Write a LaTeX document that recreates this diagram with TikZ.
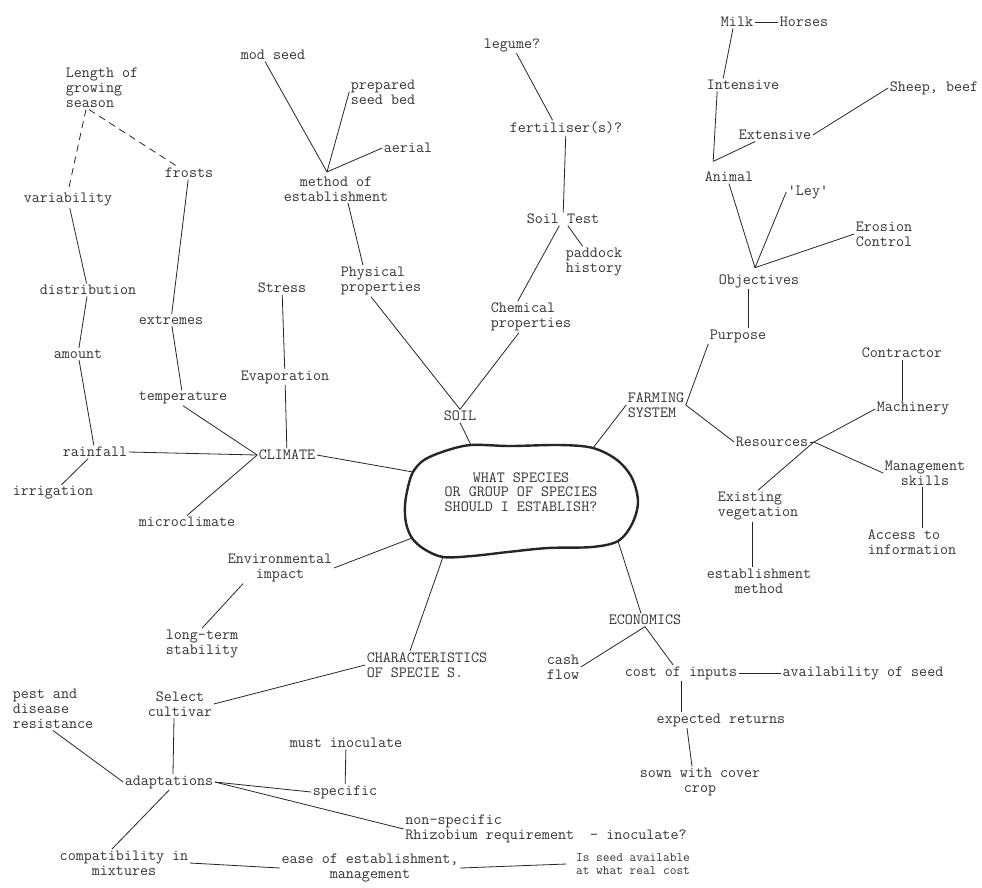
\documentclass[tikz,border=0pt]{standalone}
\usepackage{fontspec}
\begin{document}
\begin{tikzpicture}[x=1pt,y=-1pt,
  t/.style={inner sep=1.5pt, font=\ttfamily\fontsize{15.6}{15}\selectfont, text=black!80},
  tl/.style={t, align=left},
  tc/.style={t, align=center},
  ts/.style={tl, font=\ttfamily\fontsize{13}{13}\selectfont},
  ln/.style={draw=black!85, line width=0.8pt},
  dsh/.style={ln, dash pattern=on 7pt off 5pt},
  blobline/.style={draw=black!85, line width=2.4pt, line join=round}]
\useasboundingbox[fill=white] (0,0) rectangle (982,887);

% ---- climate branch
\node[tl] (lgs) at (102,88) {Length of\\growing\\season};
\node[t] (frosts) at (189,173) {frosts};
\node[t] (var) at (68,200) {variability};
\node[t] (dist) at (88,290) {distribution};
\node[t] (amount) at (78,354) {amount};
\node[t] (rain) at (95,452) {rainfall};
\node[t] (irrig) at (53,493) {irrigation};
\node[t] (extremes) at (171,320) {extremes};
\node[t] (temp) at (183,398) {temperature};
\node[t] (micro) at (187,522) {microclimate};
\node[t] (climate) at (287,455) {CLIMATE};
\node[t] (stress) at (282,288) {Stress};
\node[t] (evap) at (285,377) {Evaporation};

% ---- soil branch
\node[t] (modseed) at (273,55) {mod seed};
\node[tl] (prep) at (383,92) {prepared\\seed bed};
\node[t] (aerial) at (408,148) {aerial};
\node[tc] (method) at (336,189) {method of\\establishment};
\node[tl] (phys) at (381,281) {Physical\\properties};
\node[t] (soil) at (460,416) {SOIL};
\node[t] (legume) at (512,45) {legume?};
\node[t] (fert) at (566,128) {fertiliser(s)?};
\node[t] (soiltest) at (563,219) {Soil Test};
\node[tl] (paddock) at (594,262) {paddock\\history};
\node[tl] (chem) at (531,317) {Chemical\\properties};

% ---- farming system branch
\node[tl] (farm) at (656,405) {FARMING\\SYSTEM};
\node[t] (milk) at (737,22) {Milk};
\node[t] (horses) at (804,22) {Horses};
\node[t] (intensive) at (743,85) {Intensive};
\node[t] (extensive) at (775,135) {Extensive};
\node[t] (sheep) at (934,88) {Sheep, beef};
\node[t] (animal) at (729,177) {Animal};
\node[t] (ley) at (808,192) {'Ley'};
\node[tl] (erosion) at (884,234) {Erosion\\Control};
\node[t] (objectives) at (759,281) {Objectives};
\node[t] (purpose) at (738,336) {Purpose};
\node[t] (resources) at (772,442) {Resources};
\node[t] (contractor) at (902,353) {Contractor};
\node[t] (machinery) at (913,409) {Machinery};
\node[tc] (mgmt) at (925,473) {Management\\skills};
\node[tl] (access) at (912,542) {Access to\\information};
\node[tl] (existing) at (758,506) {Existing\\vegetation};
\node[tc] (estmethod) at (759,581) {establishment\\method};

% ---- economics branch
\node[t] (econ) at (645,620) {ECONOMICS};
\node[tl] (cash) at (563,667) {cash\\flow};
\node[t] (cost) at (681,673) {cost of inputs};
\node[t] (avail) at (863,673) {availability of seed};
\node[t] (expected) at (721,720) {expected returns};
\node[tc] (sown) at (700,782) {sown with cover\\crop};

% ---- characteristics branch
\node[tc] (env) at (280,568) {Environmental\\impact};
\node[tl] (longterm) at (202,644) {long-term\\stability};
\node[tl] (chars) at (427,665) {CHARACTERISTICS\\OF SPECIE S.};
\node[tc] (select) at (180,704) {Select\\cultivar};
\node[tl] (pest) at (53,709) {pest and\\disease\\resistance};
\node[t] (adapt) at (169,782) {adaptations};
\node[t] (mustinoc) at (346,743) {must inoculate};
\node[t] (specific) at (345,792) {specific};
\node[tl] (nonspec) at (546,829) {non-specific\\Rhizobium requirement\ \ - inoculate?};
\node[tc] (compat) at (124,863) {compatibility in\\mixtures};
\node[tc] (ease) at (370,868) {ease of establishment,\\management};
\node[ts] (isseed) at (633,864) {Is seed available\\at what real cost};

% ---- central blob
\coordinate (b1) at (405,505);
\coordinate (b2) at (408,487);
\coordinate (bClim) at (413,472);
\coordinate (b3) at (424,460);
\coordinate (b4) at (445,451);
\coordinate (bSoil) at (471,445);
\coordinate (b5) at (510,446);
\coordinate (b6) at (560,445);
\coordinate (bFarm) at (593,448);
\coordinate (b7) at (617,460);
\coordinate (b8) at (632,478);
\coordinate (b9) at (638,502);
\coordinate (b10) at (632,524);
\coordinate (bEcon) at (618,541);
\coordinate (b11) at (592,547);
\coordinate (b12) at (548,548);
\coordinate (b13) at (508,552);
\coordinate (b14) at (472,556);
\coordinate (bChar) at (443,557);
\coordinate (b15) at (424,549);
\coordinate (bEnv) at (412,538);
\coordinate (b16) at (406,523);
\draw[blobline] plot[smooth cycle, tension=0.55] coordinates {(b1) (b2) (bClim) (b3) (b4) (bSoil) (b5) (b6) (bFarm) (b7) (b8) (b9) (b10) (bEcon) (b11) (b12) (b13) (b14) (bChar) (b15) (bEnv) (b16)};
\node[tc, font=\ttfamily\fontsize{15.6}{14.6}\selectfont] (q) at (521,492) {WHAT SPECIES\\OR GROUP OF SPECIES\\SHOULD I ESTABLISH?};

% ---- connectors: climate
\draw[dsh] ([xshift=-16pt]lgs.south) -- (var.north);
\draw[dsh] ([xshift=-13pt]lgs.south) -- ([xshift=14pt]frosts.north west);
\draw[ln] (var) -- (dist);
\draw[ln] (frosts) -- (extremes);
\draw[ln] (dist) -- (amount);
\draw[ln] (amount) -- (rain);
\draw[ln] (rain) -- (irrig);
\draw[ln] (rain.east) -- (climate.west);
\draw[ln] (extremes) -- (temp);
\draw[ln] (temp.south) -- (climate.west);
\draw[ln] (micro.north) -- (climate.west);
\draw[ln] (stress) -- (evap);
\draw[ln] (evap) -- (climate);
\draw[ln] (climate.east) -- (bClim);

% ---- connectors: soil
\coordinate (mj) at ([xshift=-9pt,yshift=3pt]method.north);
\draw[ln] ([xshift=-8pt]modseed.south) -- (mj);
\draw[ln] (prep.west) -- (mj);
\draw[ln] (aerial.west) -- (mj);
\draw[ln] ([xshift=12pt]method.south) -- ([xshift=-18pt]phys.north);
\draw[ln] ([xshift=-10pt]phys.south) -- (soil.north);
\draw[ln] (chem) -- (soil.north);
\draw[ln] (soil.south) -- (bSoil);
\draw[ln] (legume) -- (fert.150);
\draw[ln] (fert) -- (soiltest);
\draw[ln] (soiltest) -- (paddock);
\draw[ln] (soiltest) -- (chem.130);

% ---- connectors: farming system
\draw[ln] (bFarm) -- (farm.west);
\draw[ln] (farm.east) -- (purpose.south west);
\draw[ln] (farm.east) -- (resources.west);
\draw[ln] ([xshift=10pt]purpose.north) -- ([xshift=-11pt]objectives.south);
\coordinate (oj) at ([xshift=-4pt,yshift=5pt]objectives.north);
\draw[ln] (oj) -- (animal.south);
\draw[ln] (oj) -- (ley.west);
\draw[ln] (oj) -- (erosion.west);
\coordinate (aj) at ([xshift=10pt,yshift=9pt]animal.north west);
\draw[ln] (aj) -- ([xshift=12pt]intensive.south west);
\draw[ln] (aj) -- ([xshift=18pt]extensive.south west);
\draw[ln] ([xshift=18pt]intensive.north west) -- ([xshift=-4pt]milk.south);
\draw[ln] (milk.east) -- (horses.west);
\draw[ln] (extensive.east) -- (sheep.west);
\coordinate (rj) at ([xshift=4pt]resources.east);
\draw[ln] (resources.east) -- (rj);
\draw[ln] (rj) -- (machinery.west);
\draw[ln] (rj) -- (existing.north);
\draw[ln] (rj) -- (mgmt.west);
\draw[ln] (contractor.south) -- (contractor.south |- machinery.north);
\draw[ln] ([xshift=-3pt]mgmt.south) -- ([xshift=-3pt]mgmt.south |- access.north);
\draw[ln] ([xshift=-6pt]existing.south) -- ([xshift=-6pt]existing.south |- estmethod.north);

% ---- connectors: economics
\draw[ln] (bEcon) -- ([xshift=-4pt]econ.north);
\draw[ln] (econ.south) -- (cash.east);
\draw[ln] (econ.south) -- ([xshift=-8pt]cost.north);
\draw[ln] (cost.east) -- (avail.west);
\draw[ln] (cost.south) -- (cost.south |- expected.north);
\draw[ln] ([xshift=-34pt]expected.south) -- ([xshift=-8pt]sown.north);

% ---- connectors: characteristics
\draw[ln] (bEnv) -- (env.east);
\draw[ln] ([xshift=-37pt]env.south) -- (longterm.north);
\draw[ln] (bChar) -- ([xshift=-17pt]chars.north);
\draw[ln] (chars.west) -- (select.east);
\draw[ln] ([xshift=-6pt]select.south) -- ([xshift=4pt]adapt.north);
\draw[ln] (pest.south) -- (adapt.west);
\draw[ln] (adapt.south) -- ([xshift=-12pt]compat.north);
\draw[ln] (adapt.east) -- (specific.west);
\draw[ln] (adapt.east) -- (nonspec.west);
\draw[ln] (mustinoc) -- (specific);
\draw[ln] (compat.east) -- (ease.west);
\draw[ln] (ease.east) -- ([xshift=-8pt]isseed.west);
\end{tikzpicture}
\end{document}
